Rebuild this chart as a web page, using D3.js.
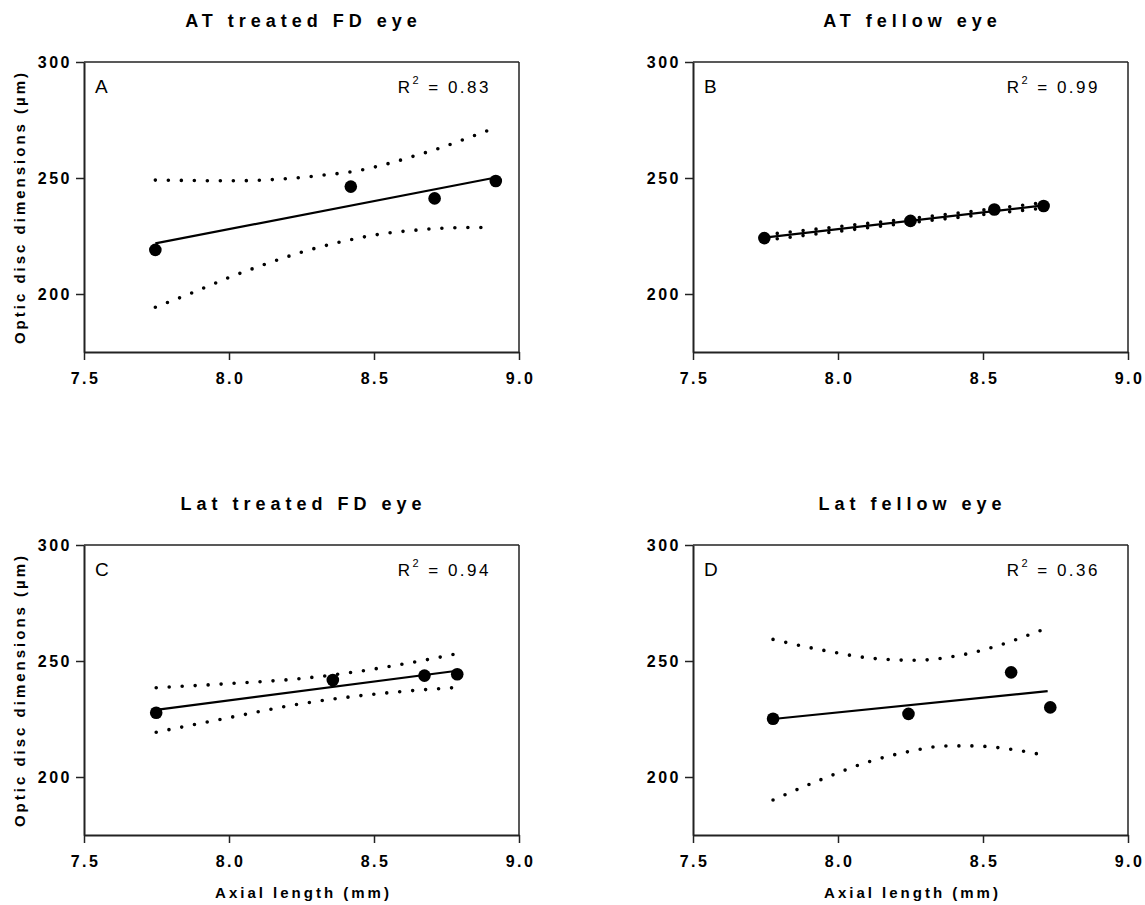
<!DOCTYPE html>
<html>
<head>
<meta charset="utf-8">
<script src="https://cdn.jsdelivr.net/npm/d3@7"></script>
<style>
  body { margin: 0; background: #fff; }
  svg { font-family: Arial, "Liberation Sans", sans-serif; }
</style>
</head>
<body>
<div id="chart"></div>
<script>
// chart values
var titles = ["AT treated FD eye", "AT fellow eye", "Lat treated FD eye", "Lat fellow eye"];
var letters = ["A", "B", "C", "D"];
var r2Labels = ["0.83", "0.99", "0.94", "0.36"];
var xTicks = [7.5, 8.0, 8.5, 9.0];
var yTicks = [200, 250, 300];
var xDomain = [7.5, 9.0];
var yDomain = [175, 300];

var pointsA = [[7.746, 219.0], [8.42, 246.3], [8.709, 241.2], [8.92, 248.7]];
var fitA = [[7.746, 221.8], [8.92, 250.2]];
var upperA = [[7.746, 249.1], [8.017, 248.8], [8.196, 249.7], [8.33, 251.3], [8.423, 252.7], [8.552, 256.3], [8.639, 259.5], [8.725, 262.8], [8.811, 266.7], [8.898, 270.7]];
var lowerA = [[7.746, 194.3], [7.875, 200.6], [7.998, 207.0], [8.124, 212.8], [8.255, 218.2], [8.387, 222.5], [8.516, 225.7], [8.651, 227.6], [8.787, 228.6], [8.879, 228.7]];

var pointsB = [[7.746, 224.1], [8.25, 231.5], [8.539, 236.4], [8.709, 237.9]];
var fitB = [[7.746, 224.3], [8.709, 238.2]];
var upperB = [[7.746, 225.5], [8.0, 229.0], [8.25, 232.5], [8.5, 236.2], [8.709, 239.4]];
var lowerB = [[7.746, 223.1], [8.0, 227.0], [8.25, 230.7], [8.5, 234.2], [8.709, 237.0]];

var pointsC = [[7.749, 227.7], [8.358, 241.8], [8.674, 243.7], [8.787, 244.3]];
var fitC = [[7.749, 228.9], [8.787, 245.8]];
var upperC = [[7.749, 238.5], [8.02, 240.4], [8.245, 242.4], [8.424, 245.1], [8.602, 248.7], [8.777, 252.9]];
var lowerC = [[7.749, 219.3], [8.017, 226.0], [8.235, 231.3], [8.415, 234.5], [8.592, 236.8], [8.775, 238.5]];

var pointsD = [[7.776, 225.1], [8.243, 227.2], [8.597, 245.1], [8.732, 230.0]];
var fitD = [[7.776, 225.0], [8.723, 237.0]];
var upperD = [[7.776, 259.3], [7.954, 254.5], [8.131, 251.0], [8.266, 250.3], [8.4, 252.0], [8.533, 255.9], [8.661, 261.4], [8.704, 263.4]];
var lowerD = [[7.776, 190.1], [7.944, 199.0], [8.112, 206.8], [8.246, 211.0], [8.378, 213.4], [8.465, 213.4], [8.556, 212.6], [8.691, 209.9]];

var panels = [
  { points: pointsA, fit: fitA, upper: upperA, lower: lowerA, col: 0, row: 0 },
  { points: pointsB, fit: fitB, upper: upperB, lower: lowerB, col: 1, row: 0 },
  { points: pointsC, fit: fitC, upper: upperC, lower: lowerC, col: 0, row: 1 },
  { points: pointsD, fit: fitD, upper: upperD, lower: lowerD, col: 1, row: 1 }
];

var width = 1145, height = 905;
var plotW = 435, plotH = 290;
var colX = [84, 693];
var rowY = [62, 545];

var svg = d3.select("#chart").append("svg")
    .attr("width", width)
    .attr("height", height);

var x = d3.scaleLinear().domain(xDomain).range([0, plotW]);
var y = d3.scaleLinear().domain(yDomain).range([plotH, 0]);

var band = d3.line()
    .x(function(d) { return x(d[0]); })
    .y(function(d) { return y(d[1]); })
    .curve(d3.curveMonotoneX);

panels.forEach(function(p, i) {
  var g = svg.append("g")
      .attr("transform", "translate(" + colX[p.col] + "," + rowY[p.row] + ")");

  // title
  g.append("text")
      .attr("x", plotW / 2 + 2)
      .attr("y", -35)
      .attr("text-anchor", "middle")
      .attr("font-size", 18)
      .attr("font-weight", "bold")
      .attr("letter-spacing", "5px")
      .text(titles[i]);

  // frame: top and right
  g.append("line")
      .attr("x1", 0).attr("x2", plotW).attr("y1", 0).attr("y2", 0)
      .attr("stroke", "#222").attr("stroke-width", 1.5);
  g.append("line")
      .attr("x1", plotW).attr("x2", plotW).attr("y1", 0).attr("y2", plotH)
      .attr("stroke", "#222").attr("stroke-width", 1.5);

  // axes
  var xAxis = g.append("g")
      .attr("transform", "translate(0," + plotH + ")")
      .call(d3.axisBottom(x).tickValues(xTicks).tickFormat(d3.format(".1f")).tickSize(8).tickSizeOuter(0));
  var yAxis = g.append("g")
      .call(d3.axisLeft(y).tickValues(yTicks).tickFormat(d3.format("d")).tickSize(8).tickSizeOuter(0));

  [xAxis, yAxis].forEach(function(ax) {
    ax.select(".domain").attr("stroke", "#222").attr("stroke-width", 2);
    ax.selectAll(".tick line").attr("stroke", "#222").attr("stroke-width", 1.5);
    ax.selectAll(".tick text")
        .attr("font-family", "Arial, 'Liberation Sans', sans-serif")
        .attr("font-size", 16)
        .attr("font-weight", "bold")
        .attr("letter-spacing", "2.5px")
        .attr("fill", "#000");
  });
  xAxis.selectAll(".tick text").attr("y", 32).attr("dy", 0).attr("dx", "1px");
  yAxis.selectAll(".tick text").attr("x", -12);

  // panel letter and R squared
  g.append("text")
      .attr("x", 11)
      .attr("y", 31)
      .attr("font-size", 19)
      .text(letters[i]);

  var r2 = g.append("text")
      .attr("x", plotW - 28)
      .attr("y", 31)
      .attr("text-anchor", "end")
      .attr("font-size", 17)
      .attr("letter-spacing", "2.5px");
  r2.append("tspan").text("R");
  r2.append("tspan").attr("dy", -9).attr("font-size", 11).text("2");
  r2.append("tspan").attr("dy", 9).text(" = " + r2Labels[i]);

  // confidence bands (dotted)
  [p.upper, p.lower].forEach(function(b) {
    g.append("path")
        .attr("d", band(b))
        .attr("fill", "none")
        .attr("stroke", "#000")
        .attr("stroke-width", 3.6)
        .attr("stroke-linecap", "round")
        .attr("stroke-dasharray", "0 13");
  });

  // regression line
  g.append("path")
      .attr("d", d3.line().x(function(d) { return x(d[0]); }).y(function(d) { return y(d[1]); })(p.fit))
      .attr("fill", "none")
      .attr("stroke", "#000")
      .attr("stroke-width", 2.2);

  // points
  g.selectAll("circle.pt")
      .data(p.points)
    .enter().append("circle")
      .attr("class", "pt")
      .attr("cx", function(d) { return x(d[0]); })
      .attr("cy", function(d) { return y(d[1]); })
      .attr("r", 6.3)
      .attr("fill", "#000");

  // axis titles
  if (p.col === 0) {
    g.append("text")
        .attr("transform", "translate(-59," + (plotH / 2) + ") rotate(-90)")
        .attr("text-anchor", "middle")
        .attr("font-size", 15)
        .attr("font-weight", "bold")
        .attr("letter-spacing", "3px")
        .text("Optic disc dimensions (\u00b5m)");
  }
  if (p.row === 1) {
    g.append("text")
        .attr("x", plotW / 2 + 2)
        .attr("y", plotH + 63)
        .attr("text-anchor", "middle")
        .attr("font-size", 15)
        .attr("font-weight", "bold")
        .attr("letter-spacing", "3px")
        .text("Axial length (mm)");
  }
});
</script>
</body>
</html>
